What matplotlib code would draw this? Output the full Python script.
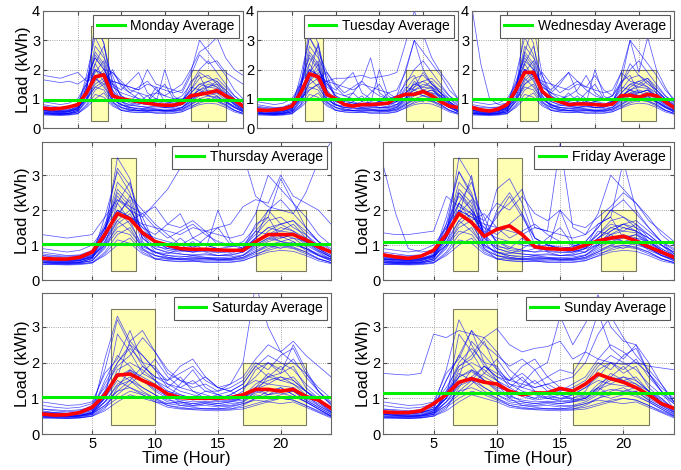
#!/usr/bin/env python
# -*- coding: utf-8 -*-

import numpy as np
import matplotlib
matplotlib.use('Agg')
import matplotlib.pyplot as plt
from matplotlib.patches import Rectangle

plt.rcParams['font.family'] = ['Liberation Sans', 'DejaVu Sans']

hours = list(range(1, 25))
days = ['Monday', 'Tuesday', 'Wednesday', 'Thursday', 'Friday', 'Saturday', 'Sunday']

# household profiles shared by weekdays
weekday_pool = [
	[0.55,0.5,0.5,0.52,0.6,1.4,2.6,2.2,1.0,0.8,0.7,0.65,0.7,0.65,0.6,0.62,0.7,0.9,1.1,1.2,1.3,1.0,0.8,0.6],
	[0.6,0.55,0.52,0.55,0.7,1.8,3.1,2.5,1.2,0.9,0.8,0.75,0.7,0.72,0.7,0.7,0.8,1.2,1.5,1.4,1.6,1.2,0.9,0.7],
	[0.5,0.48,0.47,0.5,0.55,0.9,1.6,1.9,1.3,0.8,0.65,0.6,0.6,0.62,0.6,0.58,0.65,0.85,1.0,1.1,1.05,0.9,0.7,0.55],
	[0.7,0.65,0.62,0.66,0.8,1.5,2.2,2.8,1.6,1.1,0.9,0.85,0.8,0.9,0.85,0.8,0.95,1.3,1.7,1.8,1.5,1.3,1.0,0.8],
	[0.45,0.45,0.44,0.46,0.5,0.8,1.3,1.5,0.9,0.6,0.55,0.52,0.55,0.5,0.52,0.5,0.55,0.7,0.9,1.0,0.95,0.8,0.6,0.5],
	[0.6,0.58,0.55,0.6,0.75,1.2,2.0,1.8,1.5,1.3,1.6,1.9,1.2,1.0,0.9,0.85,0.8,1.0,1.2,1.3,1.2,1.1,0.9,0.7],
	[0.52,0.5,0.5,0.5,0.62,1.1,1.7,1.4,0.95,0.8,0.75,0.9,1.1,0.8,0.7,0.75,0.9,1.4,1.3,1.1,1.0,0.9,0.75,0.6],
	[0.8,0.75,0.7,0.72,0.85,1.6,2.4,2.0,1.4,1.2,1.1,1.0,0.95,1.0,0.9,0.95,1.1,1.5,2.0,2.3,1.9,1.5,1.1,0.9],
	[0.55,0.53,0.52,0.55,0.65,1.3,3.5,2.9,1.1,0.7,0.65,0.6,0.62,0.6,0.58,0.6,0.65,0.8,1.0,0.9,1.1,0.85,0.7,0.6],
	[0.65,0.6,0.6,0.62,0.7,1.0,1.5,1.7,1.9,1.5,1.2,1.4,1.6,1.3,1.1,1.0,1.0,1.1,1.3,1.5,1.4,1.2,1.0,0.75],
	[0.48,0.47,0.46,0.47,0.5,0.7,1.0,1.2,0.8,0.62,0.6,0.58,0.56,0.55,0.55,0.56,0.6,0.75,0.85,0.95,0.9,0.75,0.6,0.5],
	[0.6,0.58,0.56,0.58,0.68,1.4,2.8,2.4,1.8,1.0,0.85,0.8,0.9,1.2,1.5,1.0,0.9,1.6,1.8,1.2,1.3,1.1,0.85,0.65],
	[0.75,0.7,0.68,0.7,0.78,1.2,1.9,2.3,1.3,0.95,0.9,1.2,0.9,0.85,2.0,1.1,0.9,1.0,1.4,1.6,1.7,1.4,1.1,0.85],
	[0.5,0.5,0.48,0.5,0.55,1.0,2.2,1.7,0.9,0.7,0.6,0.6,0.65,0.62,0.6,0.62,0.7,1.0,1.2,1.1,1.2,0.95,0.7,0.55],
	[0.9,0.85,0.8,0.85,1.0,1.5,2.0,1.8,1.6,1.5,1.4,1.3,1.5,1.4,1.3,1.2,1.3,1.9,3.0,2.6,2.2,1.8,1.3,1.0],
	[0.62,0.6,0.57,0.6,0.66,1.0,1.7,2.0,1.5,1.1,0.95,0.85,0.8,0.82,0.78,0.8,0.9,1.2,1.5,1.6,1.4,1.1,0.85,0.65],
	[0.5,0.47,0.46,0.48,0.56,0.95,1.4,1.3,0.85,0.7,0.62,0.6,0.58,0.6,0.57,0.58,0.62,0.8,0.95,1.0,0.92,0.8,0.62,0.5],
	[0.58,0.55,0.54,0.56,0.64,1.2,2.0,1.6,1.0,0.78,0.7,0.68,0.66,0.65,0.64,0.66,0.72,0.95,1.15,1.25,1.1,0.9,0.72,0.58],
	[0.45,0.44,0.43,0.44,0.48,0.75,1.15,1.05,0.75,0.6,0.55,0.54,0.53,0.52,0.5,0.52,0.56,0.68,0.8,0.85,0.82,0.7,0.55,0.47],
	[0.66,0.62,0.6,0.62,0.72,1.35,2.5,2.1,1.2,0.9,0.78,0.74,0.72,0.75,0.7,0.72,0.8,1.05,1.3,1.4,1.35,1.05,0.82,0.66],
]

# household profiles shared by weekend days
weekend_pool = [
	[0.5,0.48,0.47,0.5,0.6,1.2,2.0,2.4,2.0,1.5,1.1,0.9,0.85,0.9,0.85,0.9,1.0,1.3,1.5,1.6,1.4,1.1,0.8,0.6],
	[0.6,0.55,0.55,0.57,0.65,1.0,1.6,2.6,2.2,1.8,1.3,1.1,1.0,1.2,1.1,1.0,1.2,1.8,2.0,1.7,1.9,1.3,1.0,0.7],
	[0.45,0.44,0.43,0.45,0.5,0.7,1.3,1.8,1.6,1.4,1.0,0.8,0.75,0.7,0.72,0.7,0.8,1.0,1.2,1.3,1.1,0.9,0.7,0.5],
	[0.7,0.65,0.62,0.65,0.8,1.8,3.2,2.5,1.9,1.6,1.4,1.2,1.1,1.0,1.1,1.2,1.4,1.9,2.2,2.0,1.8,1.4,1.1,0.85],
	[0.55,0.52,0.5,0.52,0.58,0.8,1.1,1.4,1.7,2.1,1.6,1.3,1.2,1.1,1.0,1.0,1.1,1.3,1.1,1.2,1.3,1.0,0.8,0.6],
	[0.65,0.6,0.58,0.6,0.7,1.5,2.2,1.9,1.5,1.2,1.0,1.4,1.8,1.3,1.1,0.95,1.0,1.2,1.6,1.9,1.5,1.2,0.95,0.7],
	[0.5,0.5,0.48,0.5,0.55,0.9,1.4,1.6,1.3,1.1,0.9,0.85,0.8,0.85,0.8,0.8,0.9,1.1,1.0,1.1,1.2,0.95,0.75,0.55],
	[0.8,0.75,0.72,0.75,0.85,1.3,1.9,2.2,2.7,2.3,1.8,1.5,1.3,1.4,1.2,1.3,1.5,2.0,1.8,2.2,2.4,1.7,1.2,0.9],
	[0.48,0.46,0.45,0.47,0.55,1.1,1.7,1.5,1.2,1.0,0.8,0.75,0.7,0.72,0.7,0.75,0.85,0.95,0.9,1.0,0.95,0.8,0.65,0.5],
	[0.6,0.58,0.56,0.6,0.7,1.0,2.8,2.3,1.7,1.5,1.3,1.6,1.2,1.0,0.95,1.1,1.3,1.5,1.4,1.6,1.5,1.2,1.0,0.7],
	[0.55,0.53,0.5,0.52,0.6,0.9,1.2,1.5,1.9,1.6,1.5,1.9,2.1,1.6,1.3,1.2,1.0,1.3,1.7,1.5,1.4,1.2,0.9,0.65],
	[0.7,0.68,0.65,0.68,0.75,1.2,1.6,1.8,1.5,1.3,1.2,1.1,1.0,1.05,1.0,1.1,1.3,1.6,2.0,1.8,2.1,1.6,1.2,0.85],
	[0.45,0.45,0.44,0.45,0.5,0.65,0.9,1.1,1.0,0.9,0.75,0.7,0.68,0.66,0.65,0.67,0.7,0.8,0.9,0.85,0.9,0.75,0.6,0.45],
	[0.9,0.85,0.8,0.82,0.9,1.7,2.1,2.9,2.0,1.9,1.4,1.3,1.5,1.2,1.2,1.4,1.6,2.1,2.5,2.3,2.0,1.7,1.3,1.0],
	[0.58,0.55,0.53,0.55,0.62,1.0,1.8,2.0,1.8,1.5,1.2,1.05,0.95,1.0,0.92,0.95,1.05,1.4,1.6,1.5,1.6,1.2,0.9,0.62],
	[0.52,0.5,0.49,0.5,0.55,0.8,1.2,1.3,1.15,1.0,0.85,0.8,0.78,0.8,0.76,0.78,0.85,1.0,1.1,1.15,1.05,0.9,0.7,0.52],
	[0.47,0.46,0.45,0.46,0.52,0.75,1.0,1.2,1.1,0.95,0.8,0.72,0.7,0.7,0.68,0.7,0.75,0.85,0.95,1.0,0.95,0.8,0.62,0.48],
	[0.62,0.6,0.58,0.6,0.66,1.1,1.6,1.75,1.5,1.25,1.05,0.95,0.9,0.92,0.9,0.92,1.0,1.25,1.4,1.35,1.3,1.05,0.85,0.62],
	[0.55,0.53,0.52,0.53,0.6,0.9,1.35,1.5,1.3,1.1,0.95,0.9,0.85,0.88,0.85,0.9,0.95,1.15,1.25,1.2,1.2,0.95,0.75,0.56],
]

# extra households seen on single days
monday_extra = [
	[1.8,1.75,1.7,1.8,1.9,1.6,1.7,1.5,1.6,1.5,1.4,1.3,2.0,1.5,1.4,1.3,1.5,2.0,2.6,2.8,3.1,2.4,2.0,1.8],
	[1.65,1.6,1.55,1.6,1.5,1.7,2.4,2.0,1.9,1.6,1.3,1.2,1.1,1.2,1.1,1.3,1.2,1.8,2.5,2.2,2.3,1.9,1.7,1.5],
	[0.55,0.52,0.5,0.5,0.6,1.2,3.7,2.9,1.5,0.9,0.7,0.65,0.6,0.6,0.6,0.62,0.7,0.9,1.2,1.4,1.5,1.1,0.8,0.6],
	[0.6,0.58,0.55,0.57,0.65,1.0,1.4,1.6,2.0,1.4,1.2,1.0,0.9,1.4,0.9,0.85,0.9,1.3,1.9,1.7,1.6,1.3,1.0,0.7],
]
tuesday_extra = [
	[0.7,0.68,0.66,0.7,0.8,1.0,1.3,1.5,1.6,1.7,1.7,1.75,1.8,1.7,1.75,1.8,1.9,2.9,4.0,3.2,2.4,1.9,1.5,1.0],
	[0.55,0.5,0.5,0.52,0.6,1.5,3.1,2.6,1.9,1.4,1.1,1.2,1.6,2.4,1.2,1.0,1.1,2.0,3.0,2.0,1.5,1.2,0.9,0.65],
	[0.6,0.6,0.58,0.6,0.7,1.1,1.8,2.9,1.6,1.0,0.8,0.9,0.8,0.75,0.9,1.2,1.0,1.2,1.4,1.9,1.5,1.2,0.9,0.7],
	[0.5,0.5,0.48,0.5,0.55,0.8,1.6,2.2,1.2,0.8,0.7,0.7,0.65,0.7,0.68,0.7,0.75,1.0,1.6,1.3,1.4,1.0,0.75,0.55],
]
wednesday_extra = [
	[4.1,2.2,1.0,0.8,0.85,1.2,2.0,1.8,1.3,1.0,0.9,0.9,0.85,0.9,0.85,0.8,0.9,1.5,2.2,1.8,1.6,1.3,1.0,0.8],
	[0.6,0.58,0.55,0.58,0.7,1.4,2.6,3.5,1.8,1.2,1.0,1.1,1.3,1.8,1.2,1.0,1.1,1.6,3.0,1.9,3.1,2.0,1.4,0.9],
	[0.55,0.53,0.5,0.52,0.6,1.3,2.3,2.0,1.4,1.2,1.5,1.9,1.6,1.4,1.8,1.3,1.1,1.9,1.6,1.5,1.7,1.3,1.0,0.7],
	[0.5,0.48,0.47,0.5,0.55,0.9,1.5,1.8,1.1,0.75,0.7,0.68,0.7,0.75,0.7,0.72,0.8,1.1,1.3,1.2,1.3,1.0,0.75,0.55],
]
thursday_extra = [
	[0.7,0.68,0.65,0.68,0.8,1.5,2.3,2.0,1.8,2.2,2.6,3.2,3.6,3.8,3.2,3.5,3.6,2.4,2.1,2.0,1.9,2.5,3.4,3.95],
	[1.3,1.25,1.2,1.25,1.3,1.8,2.3,2.1,1.9,2.1,1.6,1.5,1.7,1.4,1.5,1.6,2.1,2.3,2.2,3.0,2.4,2.2,2.0,1.6],
	[0.55,0.52,0.5,0.52,0.62,1.5,3.2,2.7,1.6,1.1,0.9,0.85,0.8,0.85,0.8,0.82,0.9,1.2,2.0,1.6,1.7,1.3,0.9,0.65],
	[0.6,0.57,0.55,0.57,0.65,1.1,1.8,2.4,2.0,1.6,1.3,1.0,1.2,1.4,1.0,0.95,1.0,1.4,1.8,2.9,2.2,1.5,1.1,0.75],
]
friday_extra = [
	[3.3,1.9,0.9,0.8,0.85,1.4,2.2,1.9,1.3,1.8,2.4,1.8,1.2,1.0,0.95,0.9,1.0,1.3,1.6,1.5,1.4,1.2,1.0,0.8],
	[0.6,0.58,0.55,0.57,0.7,1.6,3.1,2.4,1.3,2.6,2.9,2.2,1.2,1.0,0.9,0.95,1.1,1.5,2.0,1.8,1.6,1.3,1.0,0.7],
	[0.55,0.52,0.5,0.52,0.6,1.2,2.5,2.0,1.0,2.0,2.5,1.9,1.0,0.85,0.8,0.8,0.9,1.2,1.4,1.6,1.5,1.1,0.85,0.6],
	[1.35,1.3,1.3,1.35,1.4,2.4,2.1,1.9,1.7,2.2,2.0,2.4,1.9,1.7,2.0,1.6,1.5,1.8,2.1,2.5,2.2,1.7,1.4,1.1],
	[0.6,0.6,0.58,0.6,0.7,1.3,1.9,3.0,1.2,1.9,2.2,2.6,1.5,1.4,3.9,1.5,1.3,1.6,1.8,3.4,2.0,1.5,1.1,0.75],
]
saturday_extra = [
	[0.6,0.58,0.56,0.6,0.7,1.4,2.0,2.5,2.2,1.8,1.5,1.7,1.9,1.5,1.3,1.4,2.0,4.2,3.0,2.3,2.6,2.2,1.9,1.6],
	[0.55,0.53,0.5,0.52,0.6,2.1,3.3,2.6,2.9,2.3,1.7,1.5,1.4,1.6,1.3,1.2,1.4,1.9,1.6,1.7,2.5,1.8,1.2,0.8],
	[0.5,0.5,0.48,0.5,0.58,1.0,1.5,1.3,1.1,0.9,0.85,0.9,0.8,0.85,0.8,0.85,0.9,1.2,1.1,1.3,1.1,0.9,0.7,0.5],
]
sunday_extra = [
	[1.7,1.67,1.65,1.7,2.8,2.7,2.9,2.8,2.7,2.95,2.5,2.3,2.4,2.45,2.6,2.1,2.3,2.1,2.0,1.95,2.0,1.9,1.85,1.8],
	[0.6,0.58,0.56,0.6,0.75,1.5,2.2,2.9,2.5,2.2,1.9,2.1,1.8,2.0,3.3,2.5,3.1,3.9,3.0,2.6,2.5,2.0,1.4,0.9],
	[0.55,0.52,0.5,0.52,0.65,1.1,1.9,2.1,2.6,1.8,1.5,1.7,1.4,1.6,1.8,1.7,2.3,3.4,2.4,2.1,2.5,1.7,1.2,0.7],
	[0.6,0.6,0.58,0.6,0.7,1.0,1.4,1.6,1.9,1.7,1.5,1.4,1.3,1.4,1.5,1.6,2.0,2.8,3.3,2.7,2.2,1.8,1.4,0.9],
]

# mean profile of each day (red)
mean_monday = [0.68,0.65,0.67,0.72,0.8,1.2,1.75,1.82,1.1,1.0,0.95,0.9,0.85,0.8,0.78,0.78,0.85,1.1,1.15,1.2,1.28,1.1,0.95,0.75]
mean_tuesday = [0.62,0.6,0.62,0.65,0.75,1.2,1.85,1.75,1.15,1.0,0.8,0.75,0.8,0.8,0.82,0.85,1.05,1.15,1.15,1.25,1.1,0.9,0.75,0.7]
mean_wednesday = [0.7,0.62,0.58,0.65,0.8,1.3,1.9,1.9,1.25,1.0,0.9,0.8,0.82,0.82,0.8,0.78,0.82,1.1,1.12,1.05,1.15,1.1,0.9,0.7]
mean_thursday = [0.62,0.6,0.6,0.65,0.8,1.3,1.9,1.75,1.35,1.1,1.0,0.9,0.88,0.88,0.86,0.85,0.85,1.1,1.3,1.3,1.3,1.15,0.95,0.8]
mean_friday = [0.72,0.66,0.62,0.68,0.85,1.3,1.9,1.65,1.25,1.45,1.55,1.3,0.95,0.9,0.88,0.88,1.0,1.12,1.2,1.25,1.12,0.95,0.8,0.65]
mean_saturday = [0.56,0.53,0.54,0.6,0.75,1.1,1.65,1.68,1.5,1.35,1.12,1.02,1.0,1.0,1.0,1.02,1.1,1.25,1.25,1.2,1.25,1.05,0.95,0.72]
mean_sunday = [0.62,0.6,0.6,0.65,0.85,1.1,1.45,1.55,1.45,1.4,1.2,1.1,1.15,1.15,1.28,1.2,1.4,1.68,1.55,1.45,1.3,1.1,0.85,0.72]

# overall daily average (green)
day_average = [0.97, 1.0, 1.0, 1.02, 1.08, 1.05, 1.15]

# peak windows: (start hour, end hour, top)
peaks = [
	[(6.5, 8.5, 3.5), (18, 22, 2.0)],
	[(6.5, 8.5, 3.5), (18, 22, 2.0)],
	[(6.5, 8.5, 3.5), (18, 22, 2.0)],
	[(6.5, 8.5, 3.5), (18, 22, 2.0)],
	[(6.5, 8.5, 3.5), (10, 12, 3.5), (18.25, 21, 2.0)],
	[(6.5, 10, 3.5), (17, 22, 2.0)],
	[(6.5, 10, 3.5), (16, 22, 2.0)],
]


def draw_panel(ax, profiles, mean, avg, boxes, day):
	for b in boxes:
		ax.add_patch(Rectangle((b[0], 0.25), b[1]-b[0], b[2]-0.25, facecolor='#ffffb4',
			edgecolor='#7a7a60', linewidth=0.8, zorder=1))
	for p in profiles:
		ax.plot(hours, p, color='#0000ff', linewidth=0.55, alpha=0.65, zorder=2)
	ax.plot(hours, mean, color='#ff0000', linewidth=2.6, zorder=4)
	ax.axhline(avg, color='#00ee00', linewidth=2.2, zorder=5, label=day + ' Average')
	leg = ax.legend(loc='upper right', fontsize=10, fancybox=False, framealpha=1,
		borderaxespad=0.3, handlelength=2.0, borderpad=0.3, handletextpad=0.4)
	leg.get_frame().set_edgecolor('0.35')
	leg.get_frame().set_linewidth(0.8)
	ax.set_xlim(1, 24)
	ax.set_xticks([5, 10, 15, 20])
	ax.grid(True, linestyle=':', color='0.55', linewidth=0.6)
	ax.set_axisbelow(True)
	ax.tick_params(direction='in', length=3, top=True, right=True, labelsize=10.5, pad=2, color='0.3')
	for s in ax.spines.values():
		s.set_color('0.4')
		s.set_linewidth(0.8)


def main():
	W = 681.0
	H = 470.0
	# axes boxes in pixels: left, top, right, bottom
	boxes_px = [
		(43, 11, 243, 128), (257, 11, 458, 128), (472, 11, 674, 128),
		(42, 142, 331, 280), (383, 142, 674, 280),
		(42, 293, 331, 434), (383, 293, 674, 434),
	]
	profiles = [
		weekday_pool + monday_extra,
		weekday_pool + tuesday_extra,
		weekday_pool + wednesday_extra,
		weekday_pool + thursday_extra,
		weekday_pool + friday_extra,
		weekend_pool + saturday_extra,
		weekend_pool + sunday_extra,
	]
	means = [mean_monday, mean_tuesday, mean_wednesday, mean_thursday, mean_friday, mean_saturday, mean_sunday]

	fig = plt.figure(figsize=(W/100, H/100), dpi=100)
	for i in range(0, 7):
		l, t, r, b = boxes_px[i]
		ax = fig.add_axes([l/W, 1-b/H, (r-l)/W, (b-t)/H])
		draw_panel(ax, profiles[i], means[i], day_average[i], peaks[i], days[i])
		if i < 3:
			ax.set_ylim(0, 4)
			ax.set_yticks([0, 1, 2, 3, 4])
		else:
			ax.set_ylim(0, 3.95)
			ax.set_yticks([0, 1, 2, 3])
		if i < 5:
			ax.set_xticklabels([])
		else:
			ax.set_xlabel('Time (Hour)', fontsize=12, labelpad=0)
		if i not in (1, 2):
			ax.set_ylabel('Load (kWh)', fontsize=12, labelpad=1)

	fig.savefig('out.png', dpi=100)


if __name__ == '__main__':
	main()
